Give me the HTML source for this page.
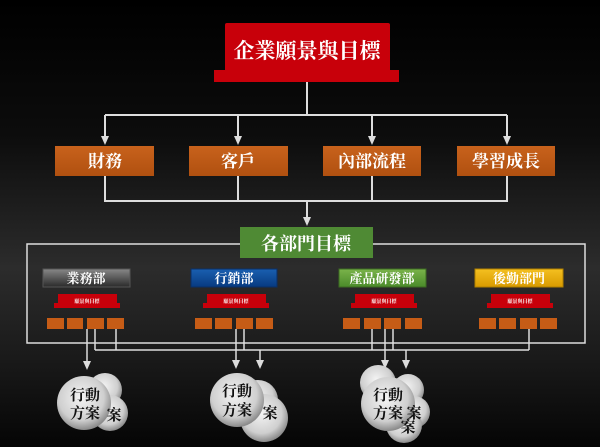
<!DOCTYPE html>
<html><head><meta charset="utf-8"><style>
html,body{margin:0;padding:0;background:#000;}
svg{display:block;}
text{font-family:"Liberation Serif","Noto Serif CJK SC","Noto Sans CJK TC",serif;font-weight:bold;}
</style></head><body>
<svg width="600" height="447" viewBox="0 0 600 447" xmlns="http://www.w3.org/2000/svg">
<defs>
<linearGradient id="bg" x1="0" y1="0" x2="0" y2="1">
<stop offset="0" stop-color="#000"/><stop offset="0.3" stop-color="#0c0c0c"/><stop offset="0.6" stop-color="#2c2c2c"/><stop offset="0.8" stop-color="#1a1a1a"/><stop offset="1" stop-color="#050505"/>
</linearGradient>
<radialGradient id="ball" cx="0.45" cy="0.4" r="0.6">
<stop offset="0" stop-color="#f4f4f4"/><stop offset="0.7" stop-color="#cfcfcf"/><stop offset="1" stop-color="#8a8a8a"/>
</radialGradient>
<linearGradient id="gray" x1="0" y1="0" x2="0" y2="1"><stop offset="0" stop-color="#888"/><stop offset="1" stop-color="#2a2a2a"/></linearGradient>
<linearGradient id="blue" x1="0" y1="0" x2="0" y2="1"><stop offset="0" stop-color="#1a5fb0"/><stop offset="1" stop-color="#073a80"/></linearGradient>
<linearGradient id="grn" x1="0" y1="0" x2="0" y2="1"><stop offset="0" stop-color="#7ab34a"/><stop offset="1" stop-color="#4a8a2a"/></linearGradient>
<linearGradient id="yel" x1="0" y1="0" x2="0" y2="1"><stop offset="0" stop-color="#f4c020"/><stop offset="1" stop-color="#d89a00"/></linearGradient>
<linearGradient id="org" x1="0" y1="0" x2="0" y2="1"><stop offset="0" stop-color="#c8621c"/><stop offset="1" stop-color="#b05010"/></linearGradient>
</defs>
<rect width="600" height="447" fill="url(#bg)"/>

<!-- top -->
<rect x="225" y="23" width="165" height="50" rx="2" fill="#c8000a"/>
<rect x="214" y="70" width="185" height="12" fill="#c8000a"/>
<text x="307" y="58" font-size="21" fill="#fff" text-anchor="middle">企業願景與目標</text>

<g stroke="#ddd" stroke-width="2" fill="none">
<line x1="307" y1="82" x2="307" y2="115"/>
<line x1="105" y1="115" x2="507" y2="115"/>
<line x1="105" y1="115" x2="105" y2="137"/>
<line x1="238" y1="115" x2="238" y2="137"/>
<line x1="372" y1="115" x2="372" y2="137"/>
<line x1="507" y1="115" x2="507" y2="137"/>
<polyline points="105,176 105,201 507,201 507,176"/>
<line x1="238" y1="176" x2="238" y2="201"/>
<line x1="372" y1="176" x2="372" y2="201"/>
<line x1="307" y1="201" x2="307" y2="218"/>
</g>
<g fill="#ddd">
<path d="M101,136 L109,136 L105,145 Z"/>
<path d="M234,136 L242,136 L238,145 Z"/>
<path d="M368,136 L376,136 L372,145 Z"/>
<path d="M503,136 L511,136 L507,145 Z"/>
<path d="M303,217 L311,217 L307,226 Z"/>
</g>

<g font-size="17" fill="#fff" text-anchor="middle">
<rect x="55" y="146" width="99" height="30" fill="url(#org)"/><text x="105" y="167">財務</text>
<rect x="189" y="146" width="99" height="30" fill="url(#org)"/><text x="238" y="167">客戶</text>
<rect x="323" y="146" width="98" height="30" fill="url(#org)"/><text x="372" y="167">內部流程</text>
<rect x="457" y="146" width="98" height="30" fill="url(#org)"/><text x="506" y="167">學習成長</text>
</g>

<!-- dept frame -->
<rect x="27" y="244" width="558" height="99" fill="none" stroke="#ddd" stroke-width="1.5"/>
<rect x="240" y="227" width="133" height="31" fill="#4f8a34"/>
<text x="306" y="250" font-size="18" fill="#fff" text-anchor="middle">各部門目標</text>

<g font-size="13" fill="#fff" text-anchor="middle">
<rect x="43" y="269" width="87" height="18" fill="url(#gray)" stroke="#555"/><text x="86" y="283">業務部</text>
<rect x="191" y="269" width="86" height="18" fill="url(#blue)" stroke="#0a2f66"/><text x="234" y="283">行銷部</text>
<rect x="339" y="269" width="87" height="18" fill="url(#grn)" stroke="#3c6a22"/><text x="382" y="283">產品研發部</text>
<rect x="475" y="269" width="88" height="18" fill="url(#yel)" stroke="#b08000"/><text x="519" y="283">後勤部門</text>
</g>

<g fill="#c8000a">
<path d="M58,294 H117 V303 H120 V308 H54 V303 H58 Z"/>
<path d="M207,294 H266 V303 H269 V308 H203 V303 H207 Z"/>
<path d="M355,294 H414 V303 H417 V308 H351 V303 H355 Z"/>
<path d="M491,294 H550 V303 H553 V308 H487 V303 H491 Z"/>
</g>
<g font-size="5" fill="#fff" text-anchor="middle">
<text x="87" y="303">願景與目標</text><text x="236" y="303">願景與目標</text><text x="384" y="303">願景與目標</text><text x="520" y="303">願景與目標</text>
</g>

<g fill="#c65c16">
<rect x="47" y="318" width="17" height="11"/><rect x="67" y="318" width="16" height="11"/><rect x="87" y="318" width="17" height="11"/><rect x="107" y="318" width="17" height="11"/>
<rect x="195" y="318" width="17" height="11"/><rect x="215" y="318" width="17" height="11"/><rect x="236" y="318" width="17" height="11"/><rect x="256" y="318" width="17" height="11"/>
<rect x="343" y="318" width="17" height="11"/><rect x="364" y="318" width="17" height="11"/><rect x="384" y="318" width="17" height="11"/><rect x="405" y="318" width="17" height="11"/>
<rect x="479" y="318" width="17" height="11"/><rect x="499" y="318" width="17" height="11"/><rect x="520" y="318" width="17" height="11"/><rect x="540" y="318" width="17" height="11"/>
</g>

<g stroke="#ddd" stroke-width="1.5" fill="none">
<line x1="95" y1="350" x2="529" y2="350"/>
<line x1="95" y1="329" x2="95" y2="350"/>
<line x1="116" y1="329" x2="116" y2="350"/>
<line x1="244" y1="329" x2="244" y2="350"/>
<line x1="372" y1="329" x2="372" y2="350"/>
<line x1="393" y1="329" x2="393" y2="350"/>
<line x1="529" y1="329" x2="529" y2="350"/>
<line x1="87" y1="329" x2="87" y2="362"/>
<line x1="236" y1="329" x2="236" y2="361"/>
<line x1="260" y1="350" x2="260" y2="361"/>
<line x1="385" y1="329" x2="385" y2="361"/>
<line x1="406" y1="350" x2="406" y2="361"/>
</g>
<g fill="#ddd">
<path d="M83,361 L91,361 L87,370 Z"/>
<path d="M232,360 L240,360 L236,369 Z"/>
<path d="M256,360 L264,360 L260,369 Z"/>
<path d="M381,360 L389,360 L385,369 Z"/>
<path d="M402,360 L410,360 L406,369 Z"/>
</g>

<!-- balls -->
<g fill="url(#ball)">
<circle cx="105" cy="390" r="17"/><circle cx="110" cy="413" r="18"/>
<circle cx="84" cy="403" r="27"/>
<circle cx="258" cy="400" r="20"/><circle cx="264" cy="418" r="24"/>
<circle cx="237" cy="400" r="27"/>
<circle cx="378" cy="383" r="18"/><circle cx="408" cy="390" r="16"/><circle cx="414" cy="412" r="16"/><circle cx="404" cy="425" r="18"/>
<circle cx="388" cy="404" r="27"/>
</g>
<g font-size="15" fill="#111" text-anchor="middle">
<text x="85" y="400">行動</text><text x="85" y="418">方案</text>
<text x="114" y="420">案</text>
<text x="237" y="396">行動</text><text x="237" y="415">方案</text>
<text x="270" y="418">案</text>
<text x="388" y="400">行動</text><text x="388" y="418">方案</text>
<text x="414" y="418">案</text><text x="408" y="432">案</text>
</g>
</svg>
</body></html>
